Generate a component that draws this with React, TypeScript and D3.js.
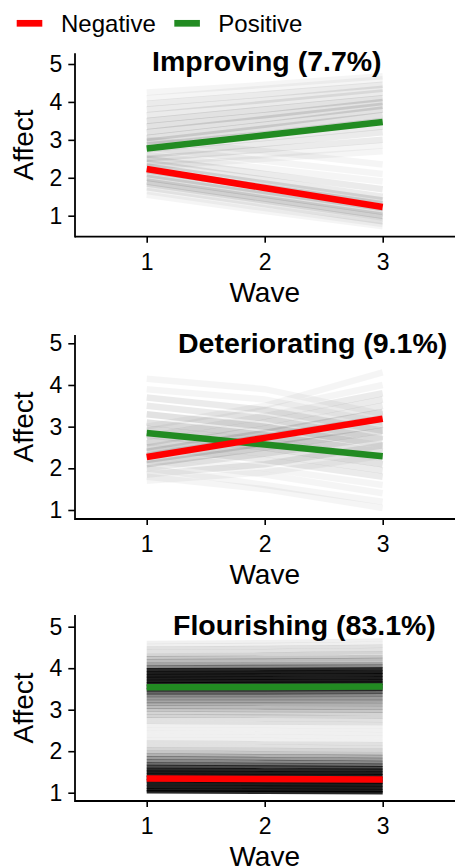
import React, { useEffect, useRef } from 'react';
import * as d3 from 'd3';

// x positions (waves) and y tick values shared by all three panels
const waves = [1, 2, 3];
const yTicks = [1, 2, 3, 4, 5];
const legendLabels = ["Negative", "Positive"];
const groupTitles = ["Improving (7.7%)", "Deteriorating (9.1%)", "Flourishing (83.1%)"];

// group mean trajectories, one value per wave
const improvingNegative = [2.23, 1.73, 1.23];
const improvingPositive = [2.77, 3.12, 3.47];
const deterioratingNegative = [2.27, 2.73, 3.19];
const deterioratingPositive = [2.85, 2.57, 2.29];
const flourishingNegative = [1.34, 1.33, 1.32];
const flourishingPositive = [3.54, 3.55, 3.56];

// individual trajectories: [wave1, wave2, wave3, count]
const improvingPaths = [
  [4.25, 4.45, 4.68, 1], [4.1, 4.35, 4.6, 1], [3.95, 4.2, 4.45, 2], [3.8, 4.05, 4.35, 2],
  [3.65, 3.95, 4.25, 2], [3.5, 3.8, 4.1, 3], [3.35, 3.65, 4.0, 3], [3.2, 3.55, 3.9, 3],
  [3.05, 3.4, 3.8, 3], [2.95, 3.3, 3.65, 3], [2.85, 3.15, 3.5, 3], [2.75, 3.05, 3.35, 2],
  [2.6, 2.9, 3.2, 2], [2.5, 2.75, 3.0, 2], [2.4, 2.6, 2.85, 1], [2.3, 2.5, 2.7, 1],
  [3.0, 2.7, 2.35, 1], [2.8, 2.45, 2.1, 1], [2.6, 2.25, 1.9, 1], [2.5, 2.1, 1.7, 2],
  [2.4, 1.95, 1.5, 2], [2.3, 1.85, 1.4, 3], [2.2, 1.75, 1.3, 3], [2.1, 1.65, 1.2, 3],
  [2.0, 1.55, 1.1, 3], [1.9, 1.45, 1.0, 3], [1.85, 1.4, 0.95, 2], [1.75, 1.3, 0.85, 2],
  [1.65, 1.2, 0.78, 1], [1.55, 1.12, 0.72, 1]
];
const deterioratingPaths = [
  [1.7, 1.9, 2.3, 1], [1.85, 2.1, 2.55, 2], [2.0, 2.35, 2.75, 2], [2.1, 2.5, 2.9, 3],
  [2.2, 2.6, 3.05, 3], [2.3, 2.75, 3.2, 3], [2.4, 2.85, 3.35, 3], [2.5, 2.95, 3.5, 2],
  [2.6, 3.1, 3.65, 2], [2.75, 3.25, 3.8, 2], [2.9, 3.4, 4.0, 1], [3.0, 3.5, 4.3, 1],
  [4.15, 3.9, 3.3, 1], [3.9, 3.65, 3.1, 1], [3.7, 3.4, 2.9, 2], [3.5, 3.2, 2.7, 2],
  [3.3, 3.0, 2.55, 3], [3.1, 2.8, 2.4, 3], [2.95, 2.65, 2.25, 3], [2.8, 2.5, 2.1, 3],
  [2.65, 2.35, 1.95, 2], [2.5, 2.2, 1.8, 2], [2.35, 2.0, 1.6, 1], [2.2, 1.85, 1.4, 1],
  [2.0, 1.6, 1.2, 1], [1.8, 1.5, 1.05, 1]
];
const flourishingPaths = [
  [4.62, 4.64, 4.68, 1], [4.55, 4.57, 4.6, 1], [4.48, 4.5, 4.53, 2], [4.4, 4.42, 4.45, 2],
  [4.32, 4.34, 4.37, 3], [4.25, 4.26, 4.28, 4], [4.18, 4.19, 4.21, 5], [4.1, 4.11, 4.12, 7],
  [4.03, 4.04, 4.05, 10], [3.96, 3.97, 3.98, 30], [3.89, 3.9, 3.91, 35], [3.82, 3.83, 3.84, 35],
  [3.75, 3.76, 3.77, 35], [3.68, 3.69, 3.7, 35], [3.62, 3.63, 3.64, 30], [3.55, 3.56, 3.57, 30],
  [3.48, 3.48, 3.49, 25], [3.41, 3.41, 3.42, 15], [3.34, 3.34, 3.35, 10], [3.27, 3.27, 3.27, 8],
  [3.2, 3.2, 3.2, 7], [3.13, 3.13, 3.12, 6], [3.06, 3.05, 3.04, 5], [2.99, 2.98, 2.97, 4],
  [2.92, 2.91, 2.9, 3], [2.85, 2.84, 2.82, 3], [2.78, 2.76, 2.74, 2], [2.7, 2.68, 2.66, 2],
  [2.62, 2.6, 2.58, 1], [2.54, 2.52, 2.5, 1], [2.46, 2.44, 2.42, 1], [2.38, 2.36, 2.34, 1],
  [2.3, 2.28, 2.26, 1], [2.22, 2.2, 2.18, 2], [2.14, 2.12, 2.1, 2], [2.06, 2.04, 2.02, 3],
  [1.98, 1.96, 1.94, 4], [1.91, 1.89, 1.87, 6], [1.84, 1.82, 1.8, 8], [1.77, 1.75, 1.73, 10],
  [1.7, 1.68, 1.66, 14], [1.63, 1.62, 1.6, 20], [1.56, 1.55, 1.54, 30], [1.49, 1.48, 1.47, 35],
  [1.42, 1.41, 1.4, 35], [1.35, 1.34, 1.33, 35], [1.28, 1.27, 1.26, 35], [1.21, 1.2, 1.19, 35],
  [1.14, 1.13, 1.12, 35], [1.07, 1.06, 1.05, 35], [1.02, 1.01, 1.0, 30]
];

const groupNegative = [improvingNegative, deterioratingNegative, flourishingNegative];
const groupPositive = [improvingPositive, deterioratingPositive, flourishingPositive];
const groupPaths = [improvingPaths, deterioratingPaths, flourishingPaths];

// pixel layout of each panel
const panels = [
  { y1: 215.7, y5: 64, top: 53.3, bottom: 236.7, titleX: 152, titleY: 71, pathWidth: 6.5, alpha: 0.04 },
  { y1: 510, y5: 343.3, top: 335, bottom: 519, titleX: 178, titleY: 353, pathWidth: 6.5, alpha: 0.04 },
  { y1: 792.7, y5: 626.7, top: 615, bottom: 801, titleX: 173, titleY: 635, pathWidth: 3.5, alpha: 0.06 }
];

const W = 455;
const H = 867;
const axisX = 75;
const font = '"Liberation Sans", Arial, Helvetica, sans-serif';
const colors = { Negative: "#ff0000", Positive: "#228b22" };

export default function App() {
  const ref = useRef(null);

  useEffect(() => {
    const svg = d3.select(ref.current);
    svg.selectAll("*").remove();

    const x = d3.scaleLinear().domain([1, 3]).range([146.7, 382.7]);

    // legend
    const legend = svg.append("g");
    const legendX = [[16.7, 61], [174.3, 218.3]];
    legendLabels.forEach((label, i) => {
      legend.append("line")
        .attr("x1", legendX[i][0]).attr("x2", legendX[i][0] + 25.6)
        .attr("y1", 23.3).attr("y2", 23.3)
        .attr("stroke", colors[label]).attr("stroke-width", 6.7);
      legend.append("text")
        .attr("x", legendX[i][1]).attr("y", 32.3)
        .attr("font-size", 24).attr("font-family", font)
        .text(label);
    });

    panels.forEach((p, k) => {
      const y = d3.scaleLinear().domain([1, 5]).range([p.y1, p.y5]);
      const g = svg.append("g");
      const line = d3.line().x((d, i) => x(waves[i])).y(d => y(d));

      /**
       * grey individual trajectories
       */
      g.append("g")
        .selectAll("path")
        .data(groupPaths[k])
        .enter()
        .append("path")
        .attr("d", d => line(d.slice(0, 3)))
        .attr("fill", "none")
        .attr("stroke", "#000")
        .attr("stroke-width", p.pathWidth)
        .attr("stroke-opacity", d => 1 - Math.pow(1 - p.alpha, d[3]));

      // group means: positive first, negative on top
      g.append("path")
        .attr("d", line(groupPositive[k]))
        .attr("fill", "none").attr("stroke", colors.Positive).attr("stroke-width", 6.5);
      g.append("path")
        .attr("d", line(groupNegative[k]))
        .attr("fill", "none").attr("stroke", colors.Negative).attr("stroke-width", 6.5);

      /**
       * axes
       */
      const xAxis = g.append("g")
        .attr("transform", `translate(0,${p.bottom})`)
        .call(d3.axisBottom(x).tickValues(waves).tickSize(6).tickPadding(10.5).tickFormat(d3.format("d")));
      const yAxis = g.append("g")
        .attr("transform", `translate(${axisX},0)`)
        .call(d3.axisLeft(y).tickValues(yTicks).tickSize(6.7).tickPadding(6).tickFormat(d3.format("d")));
      [xAxis, yAxis].forEach(a => {
        a.select(".domain").remove();
        a.selectAll("line").attr("stroke", "#000").attr("stroke-width", 1.6);
        a.selectAll("text").attr("font-size", 23).attr("font-family", font).attr("fill", "#000");
      });

      g.append("line")
        .attr("x1", axisX).attr("x2", W)
        .attr("y1", p.bottom).attr("y2", p.bottom)
        .attr("stroke", "#000").attr("stroke-width", 1.8);
      g.append("line")
        .attr("x1", axisX).attr("x2", axisX)
        .attr("y1", p.top).attr("y2", p.bottom + 0.9)
        .attr("stroke", "#000").attr("stroke-width", 1.8);

      // axis titles
      g.append("text")
        .attr("x", x(2)).attr("y", p.bottom + 65)
        .attr("text-anchor", "middle")
        .attr("font-size", 28).attr("font-family", font)
        .text("Wave");
      g.append("text")
        .attr("transform", `translate(33,${(p.top + p.bottom) / 2}) rotate(-90)`)
        .attr("text-anchor", "middle")
        .attr("font-size", 28).attr("font-family", font)
        .text("Affect");

      // panel title
      g.append("text")
        .attr("x", p.titleX).attr("y", p.titleY)
        .attr("font-size", 28.5).attr("font-weight", "bold").attr("font-family", font)
        .text(groupTitles[k]);
    });
  }, []);

  return (
    <svg ref={ref} width={W} height={H}
      style={{ position: "absolute", left: 0, top: 0, background: "#fff", display: "block" }} />
  );
}
